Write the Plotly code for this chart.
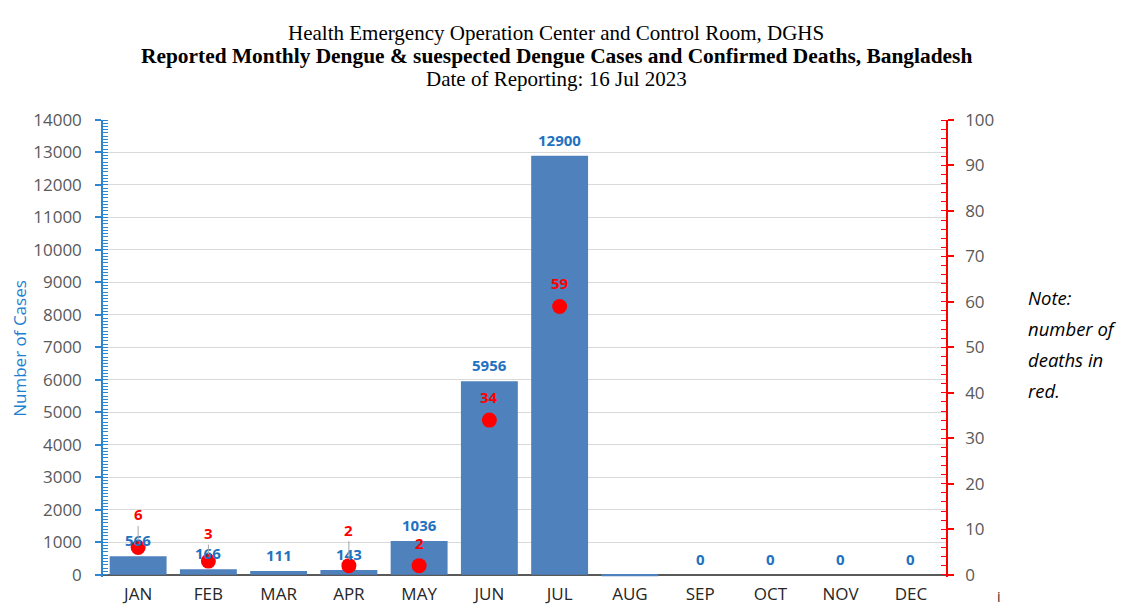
import plotly.graph_objects as go
from plotly.subplots import make_subplots

months = ["JAN", "FEB", "MAR", "APR", "MAY", "JUN", "JUL", "AUG", "SEP", "OCT", "NOV", "DEC"]
cases = [566, 166, 111, 143, 1036, 5956, 12900, -50, 0, 0, 0, 0]
case_labels = ["566", "166", "111", "143", "1036", "5956", "12900", "", "0", "0", "0", "0"]
death_months = ["JAN", "FEB", "APR", "MAY", "JUN", "JUL"]
deaths = [6, 3, 2, 2, 34, 59]
note_lines = ["Note:", "number of", "deaths in", "red."]
# label offsets (px) above the dot; leader line where label is lifted
death_label_offset = [-33, -28, -36, -23, -23, -23]
death_leader = [True, True, True, False, False, False]

BLUE_TXT = "#1f72c0"
AXIS_BLUE = "#2f86d0"
GRAY = "#595959"

# page body has an 8px margin; figure is sized to fit the window
OFF = 8
W, H = 1128 - OFF, 607 - OFF
L, R, T, B = 103 - OFF, 182, 120 - OFF, 30
PW, PH = W - L - R, H - T - B


def px_x(x):
    return (x - OFF - L) / PW


def px_y(y):
    return (OFF + T + PH - y) / PH


fig = make_subplots(specs=[[{"secondary_y": True}]])

fig.add_trace(go.Bar(
    x=months, y=cases,
    marker=dict(color="#4f81bd", line=dict(width=0)),
    showlegend=False, hoverinfo="x+y",
), secondary_y=False)

for m, v, lab in zip(months, cases, case_labels):
    if lab:
        fig.add_annotation(
            x=m, y=max(v, 0), xref="x", yref="y", text=f"<b>{lab}</b>",
            showarrow=False, yanchor="middle", yshift=16,
            font=dict(family="Open Sans", size=15, color=BLUE_TXT),
        )

fig.add_trace(go.Scatter(
    x=death_months, y=deaths, mode="markers",
    marker=dict(color="#ff0000", size=15),
    showlegend=False, cliponaxis=False,
), secondary_y=True)

for m, d, off, lead in zip(death_months, deaths, death_label_offset, death_leader):
    fig.add_annotation(
        x=m, y=d, xref="x", yref="y2", text=f"<b>{d}</b>",
        showarrow=True, arrowhead=0, arrowwidth=1,
        arrowcolor="#a6a6a6" if lead else "rgba(0,0,0,0)",
        ax=0, ay=off, standoff=7, startstandoff=0,
        font=dict(family="Open Sans", size=15, color="#ff0000"),
    )

fig.update_layout(
    width=W, height=H,
    margin=dict(l=L, r=R, t=T, b=B, autoexpand=False),
    plot_bgcolor="white", paper_bgcolor="white",
    bargap=0.19,
    font=dict(family="Open Sans", color=GRAY),
)

fig.update_xaxes(
    domain=[0, 1],
    showgrid=False, showline=False, ticks="", automargin=False,
    tickfont=dict(family="Open Sans", size=17, color="#262626"),
    ticklabelstandoff=5,
    range=[-0.5, 11.5],
)

fig.update_yaxes(
    range=[-70, 14000], dtick=1000, tick0=0, tickformat="d", automargin=False,
    showgrid=True, gridcolor="#d9d9d9", gridwidth=1,
    zeroline=True, zerolinecolor="#595959", zerolinewidth=1.5,
    showline=True, linecolor=AXIS_BLUE, linewidth=1.5,
    ticks="outside", ticklen=6, tickcolor=AXIS_BLUE, tickwidth=1.5,
    ticklabelstandoff=10,
    minor=dict(dtick=100, ticks="inside", ticklen=5, tickcolor=AXIS_BLUE, tickwidth=1, showgrid=False),
    tickfont=dict(family="Open Sans", size=17, color=GRAY),
    title=dict(text="Number of Cases", font=dict(family="Open Sans", size=17, color="#1e7fd0"), standoff=3),
    secondary_y=False,
)

fig.update_yaxes(
    range=[-0.5, 100], dtick=10, tick0=0, automargin=False,
    showgrid=False, zeroline=False,
    showline=True, linecolor="#ff0000", linewidth=1.5,
    ticks="outside", ticklen=6, tickcolor="#ff0000", tickwidth=1.5,
    ticklabelstandoff=8,
    minor=dict(dtick=2, ticks="inside", ticklen=5, tickcolor="#ff0000", tickwidth=1, showgrid=False),
    tickfont=dict(family="Open Sans", size=17, color=GRAY),
    secondary_y=True,
)

title_font = "Liberation Serif"
cx = px_x(556)
titles = [
    ("Health Emergency Operation Center and Control Room, DGHS", 33, 21),
    ("<b>Reported Monthly Dengue & suespected Dengue Cases and Confirmed Deaths, Bangladesh</b>", 56, 21.4),
    ("Date of Reporting: 16 Jul 2023", 79, 21),
]
for txt, yy, sz in titles:
    fig.add_annotation(xref="paper", yref="paper", x=cx, y=px_y(yy), text=txt,
                       showarrow=False, font=dict(family=title_font, size=sz, color="#000"),
                       xanchor="center", yanchor="middle")

for i, line in enumerate(note_lines):
    fig.add_annotation(xref="paper", yref="paper", x=px_x(1026), y=px_y(297 + 31 * i),
                       text=f"<i>{line}</i>", align="left",
                       showarrow=False, xanchor="left", yanchor="middle",
                       font=dict(family="Open Sans", size=18.5, color="#000"))

fig.add_annotation(xref="paper", yref="paper", x=px_x(999), y=px_y(596), text="i",
                   showarrow=False, xanchor="center", yanchor="middle",
                   font=dict(family="Open Sans", size=14, color="#262626"))

fig.write_html("out.html")
